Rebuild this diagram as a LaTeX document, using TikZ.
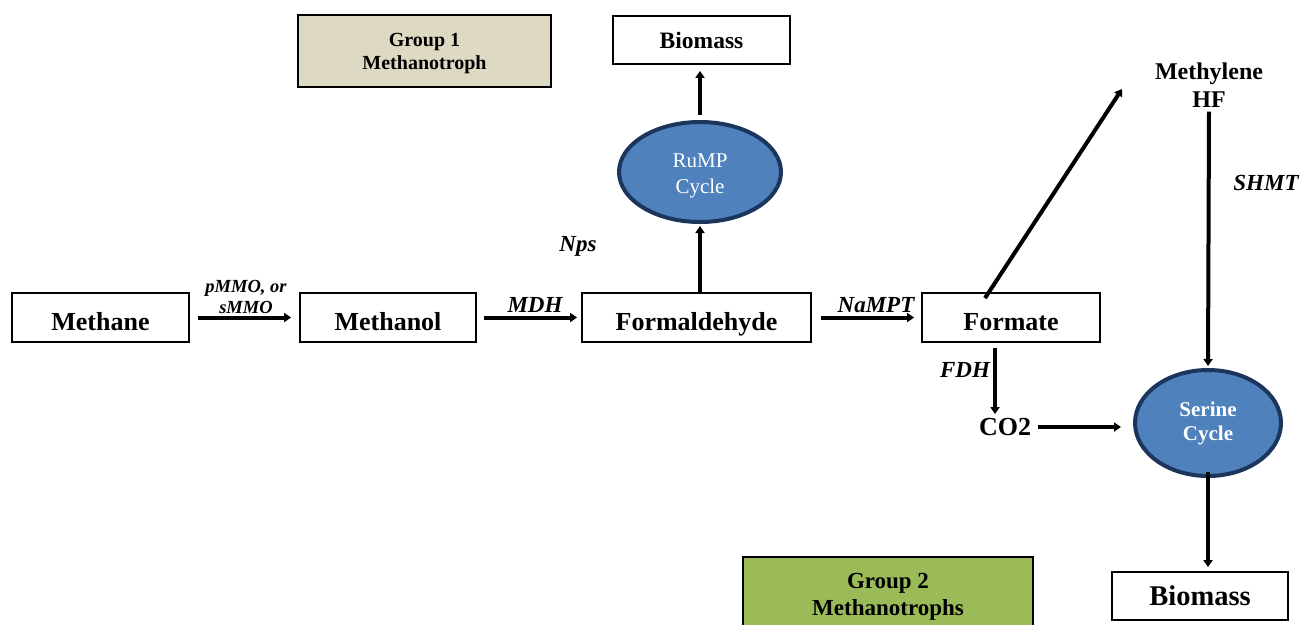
\documentclass[tikz,border=0pt]{standalone}
\usepackage{fontspec}
\setmainfont{Liberation Serif}
\usetikzlibrary{arrows.meta,shapes.geometric}
\definecolor{gone}{HTML}{DDD9C3}
\definecolor{gtwo}{HTML}{9BBB59}
\definecolor{cyc}{HTML}{4F81BD}
\definecolor{cycb}{HTML}{1B355C}
\tikzset{
  boxn/.style={draw, line width=1.8pt, inner sep=0pt, text depth=0pt, font=\bfseries\fontsize{26}{28}\selectfont},
  mainbox/.style={boxn, text height=25pt},
  grp/.style={draw, line width=2pt, inner sep=0pt, align=center, font=\bfseries\fontsize{20}{23}\selectfont},
  cycle/.style={ellipse, draw=cycb, fill=cyc, line width=4pt, inner sep=0pt, align=center, text=white},
  lab/.style={font=\bfseries\itshape\fontsize{23}{25}\selectfont, inner sep=0pt},
  arr/.style={line width=4pt, -{Triangle[length=7pt,width=9pt]}},
}
\begin{document}
\begin{tikzpicture}[x=1pt,y=-1pt]
\useasboundingbox (0,0) rectangle (1300,624);
% boxes
\node[grp, fill=gone, minimum width=253pt, minimum height=72pt] (g1) at (424.5,51) {};
\node[align=center, font=\bfseries\fontsize{20}{23}\selectfont, inner sep=0pt] (g1t) at (424.5,54) {Group 1\\Methanotroph};
\node[grp, fill=gtwo, minimum width=290pt, minimum height=72pt] (g2) at (888,593) {};
\node[align=center, font=\bfseries\fontsize{23}{27}\selectfont, inner sep=0pt] (g2t) at (888,597) {Group 2\\Methanotrophs};
\node[boxn, minimum width=177pt, minimum height=48pt, font=\bfseries\fontsize{23.5}{26}\selectfont] (bio1) at (701.5,40) {Biomass};
\node[boxn, minimum width=176pt, minimum height=48pt, font=\bfseries\fontsize{28.5}{30}\selectfont] (bio2) at (1200,596) {Biomass};
\node[mainbox, minimum width=177pt, minimum height=49pt] (methane) at (100.5,317.5) {Methane};
\node[mainbox, minimum width=176pt, minimum height=49pt] (methanol) at (388,317.5) {Methanol};
\node[mainbox, minimum width=229pt, minimum height=49pt] (formald) at (696.5,317.5) {Formaldehyde};
\node[mainbox, minimum width=178pt, minimum height=49pt] (formate) at (1011,317.5) {Formate};
\node[cycle, minimum width=162pt, minimum height=100pt] (rump) at (700,172) {};
\node[align=center, text=white, font=\fontsize{21}{26}\selectfont, inner sep=0pt] (rumpt) at (700,176) {RuMP\\Cycle};
\node[cycle, minimum width=146pt, minimum height=106pt, font=\bfseries\fontsize{21}{24}\selectfont] (serine) at (1208,423) {Serine\\Cycle};
\node[font=\bfseries\fontsize{24}{28}\selectfont, align=center, inner sep=2pt] (mhf) at (1209,85) {Methylene\\HF};
\node[font=\bfseries\fontsize{26}{28}\selectfont, inner sep=2pt] (co2) at (1005,427) {CO2};
\coordinate (mhin) at (1122,89);
% labels
\node[lab, align=center, font=\bfseries\itshape\fontsize{18.5}{20.5}\selectfont] (lpmmo) at (246,297) {pMMO, or\\sMMO};
\node[lab] (lmdh) at (535,305) {MDH};
\node[lab] (lnampt) at (876,305) {NaMPT};
\node[lab] (lfdh) at (965,370) {FDH};
\node[lab] (lnps) at (578,246) {Nps};
\node[lab] (lshmt) at (1266,183) {SHMT};
% arrows
\draw[arr, shorten <=8pt, shorten >=8pt] (methane.east) -- (methanol.west);
\draw[arr, shorten <=7pt, shorten >=4pt] (methanol.east) -- (formald.west);
\draw[arr, shorten <=9pt, shorten >=7pt] (formald.east) -- (formate.west);
\draw[arr, shorten >=2pt] ([xshift=3.5pt]formald.north) -- ([xshift=3.5pt]formald.north |- rump.south);
\draw[arr, shorten <=5pt, shorten >=6pt] (rump.north) -- (rump.north |- bio1.south);
\draw[arr, line cap=butt] ([xshift=-26pt,yshift=-6pt]formate.north) -- (mhin);
\draw[arr, shorten <=2pt, shorten >=2pt] (mhf.south) -- (serine.north);
\draw[arr, shorten <=5pt, shorten >=2pt] ([xshift=-16pt]formate.south) -- ([xshift=-16pt]formate.south |- co2.north);
\draw[arr, shorten <=5pt, shorten >=12pt] (co2.east) -- (co2.east -| serine.west);
\draw[arr, shorten <=-6pt, shorten >=4pt] (serine.south) -- (serine.south |- bio2.north);
\end{tikzpicture}
\end{document}
